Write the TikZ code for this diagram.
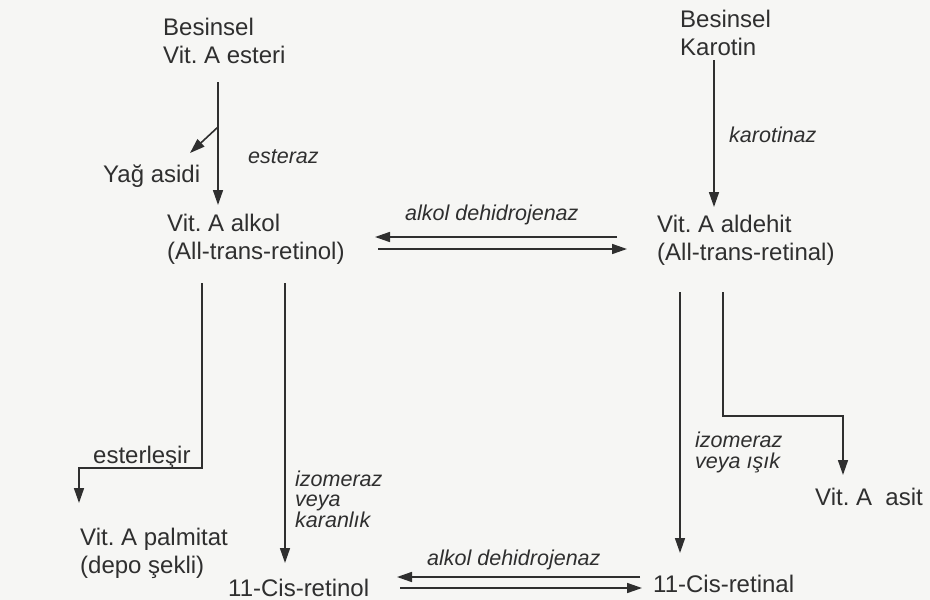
\documentclass[tikz,border=0pt]{standalone}
\usepackage{fontspec}
\setmainfont{Liberation Sans}
\usetikzlibrary{arrows.meta,calc}
\definecolor{ink}{HTML}{2F2F2F}
\definecolor{paper}{HTML}{F6F6F4}
\frenchspacing
\begin{document}
\begin{tikzpicture}[x=1pt,y=-1pt,
  lbl/.style={anchor=base west,inner sep=0pt,text=ink,align=left,
    font=\fontsize{24}{28}\selectfont},
  enz/.style={anchor=base west,inner sep=0pt,text=ink,align=left,
    font=\fontsize{21.5}{20.5}\selectfont\itshape},
  arr/.style={draw=ink,line width=1.6pt,-{Triangle[length=15pt,width=10pt]}}]
\fill[paper] (0,0) rectangle (930,600);
\useasboundingbox (0,0) rectangle (930,600);
% substances (base = baseline of the last line)
\node[lbl] (esteri)   at (163,63)  {Besinsel\\Vit. A esteri};
\node[lbl] (karotin)  at (680,55)  {Besinsel\\Karotin};
\node[lbl] (yag)      at (103,182) {Yağ asidi};
\node[lbl] (alkol)    at (167,259) {Vit. A alkol\\(All-trans-retinol)};
\node[lbl] (aldehit)  at (657,260) {Vit. A aldehit\\(All-trans-retinal)};
\node[lbl] (palmitat) at (80,573)  {Vit. A palmitat\\(depo şekli)};
\node[lbl] (cisol)    at (228,596) {11-Cis-retinol};
\node[lbl] (cisal)    at (653,592) {11-Cis-retinal};
\node[lbl] (asit)     at (815,505) {Vit. A\ \ asit};
\node[lbl] (esterlesir) at (93,463) {esterleşir};
% enzyme labels
\node[enz] (esteraz)   at (248,163) {esteraz};
\node[enz] (karotinaz) at (729,142) {karotinaz};
\node[enz] (adh1)      at (405,220) {alkol dehidrojenaz};
\node[enz] (adh2)      at (427,565) {alkol dehidrojenaz};
\node[enz] (izo1)      at (295,527) {izomeraz\\veya\\karanlık};
\node[enz] (izo2)      at (695,468) {izomeraz\\veya ışık};
% connectors
\draw[arr] ($(esteri.base west)+(55,19)$) -- ($(alkol.base west)+(51,-54)$);
\draw[arr] ($(esteri.base west)+(55,64)$) -- ($(yag.base west)+(87,-29)$);
\draw[arr] ($(karotin.base west)+(34,5)$) -- ($(aldehit.base west)+(57,-53)$);
\draw[arr] ($(aldehit.base west)+(-40,-23)$) -- ($(alkol.base west)+(208,-22)$);
\draw[arr] ($(alkol.base west)+(211,-10)$) -- ($(aldehit.base west)+(-30,-11)$);
\draw[arr] ($(alkol.base west)+(35,24)$) -- ++(0,185) -| ($(palmitat.base west)+(-1,-70)$);
\draw[arr] ($(alkol.base west)+(118,24)$) -- ($(cisol.base west)+(57,-33)$);
\draw[arr] ($(aldehit.base west)+(23,32)$) -- ($(cisal.base west)+(27,-39)$);
\draw[arr] ($(aldehit.base west)+(66,32)$) -- ++(0,124) -| ($(asit.base west)+(28,-30)$);
\draw[arr] ($(cisal.base west)+(-13,-15)$) -- ($(cisol.base west)+(169,-19)$);
\draw[arr] ($(cisol.base west)+(172,-8)$) -- ($(cisal.base west)+(-11,-4)$);
\end{tikzpicture}
\end{document}
